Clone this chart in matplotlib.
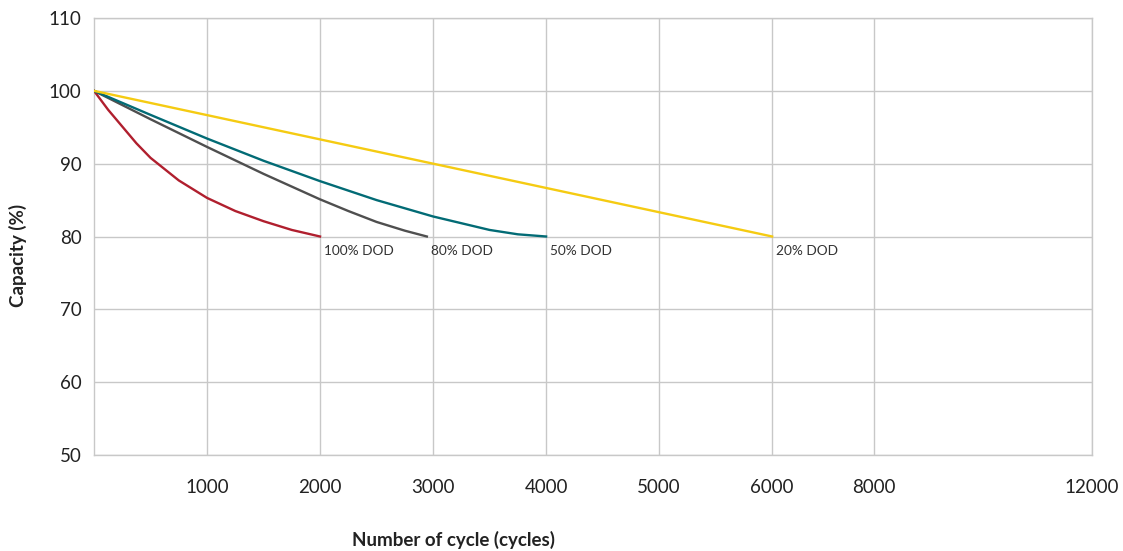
import numpy as np
import matplotlib.pyplot as plt

# data (cycles, capacity %)
dod100_x = [0, 125, 250, 375, 500, 750, 1000, 1250, 1500, 1750, 2000]
dod100_y = [100, 97.4, 95.1, 92.8, 90.8, 87.7, 85.3, 83.5, 82.1, 80.9, 80]
dod80_x = [0, 500, 1000, 1500, 2000, 2250, 2500, 2750, 2945]
dod80_y = [100, 96.1, 92.3, 88.6, 85.1, 83.5, 82.0, 80.8, 80]
dod50_x = [0, 500, 1000, 1500, 2000, 2500, 3000, 3500, 3750, 4000]
dod50_y = [100, 96.7, 93.45, 90.4, 87.6, 85.0, 82.75, 80.9, 80.3, 80]
dod20_x = [0, 6000]
dod20_y = [100, 80]
labels = ["100% DOD", "80% DOD", "50% DOD", "20% DOD"]
xticks = [1000, 2000, 3000, 4000, 5000, 6000, 8000, 12000]
yticks = [50, 60, 70, 80, 90, 100, 110]

# uneven x axis: evenly spaced up to 6000, squeezed after
brk_c = [0, 6000, 8000, 12000]
brk_p = [0, 6, 6.9, 8.83]

def fwd(x):
    return np.interp(x, brk_c, brk_p, left=-1e9, right=1e9)

def inv(p):
    return np.interp(p, brk_p, brk_c)

plt.rcParams['font.family'] = ['Lato', 'DejaVu Sans']

fig = plt.figure(figsize=(11.23, 5.51), dpi=100)
ax = fig.add_axes([94/1123, 1-455/551, 998/1123, 437/551])
ax.set_xscale('function', functions=(fwd, inv))

series = [
    (dod100_x, dod100_y, '#b01f2e'),
    (dod80_x, dod80_y, '#4f4f4f'),
    (dod50_x, dod50_y, '#026b75'),
    (dod20_x, dod20_y, '#f5cb12'),
]
for (xs, ys, c), lab in zip(series, labels):
    ax.plot(xs, ys, color=c, lw=1.7, zorder=3, solid_joinstyle='round')
    ax.annotate(lab, (xs[-1], ys[-1]), xytext=(3, -6), textcoords='offset points',
                ha='left', va='top', fontsize=9.8, color='#333333')

ax.set_xlim(0, 12000)
ax.set_ylim(50, 110)
ax.set_xticks(xticks)
ax.set_xticklabels([str(t) for t in xticks])
ax.set_yticks(yticks)
ax.grid(True, color='#c8c8c8', lw=1)
ax.set_axisbelow(True)
for s in ax.spines.values():
    s.set_color('#c8c8c8')
    s.set_linewidth(1)
ax.tick_params(axis='both', length=0, labelsize=13.5, colors='#222222')
ax.tick_params(axis='x', pad=17)
ax.tick_params(axis='y', pad=9)

ax.set_xlabel('Number of cycle (cycles)', fontsize=13.5, fontweight='bold', color='#222222')
ax.xaxis.label.set(ha='center', va='center')
ax.xaxis.set_label_coords((453-94)/998, -(540-455)/437)
ax.set_ylabel('Capacity (%)', fontsize=13.5, fontweight='bold', color='#222222')
ax.yaxis.label.set(ha='center', va='center')
ax.yaxis.set_label_coords((18-94)/998, (455-255)/437)

fig.savefig('out.png', dpi=100)
